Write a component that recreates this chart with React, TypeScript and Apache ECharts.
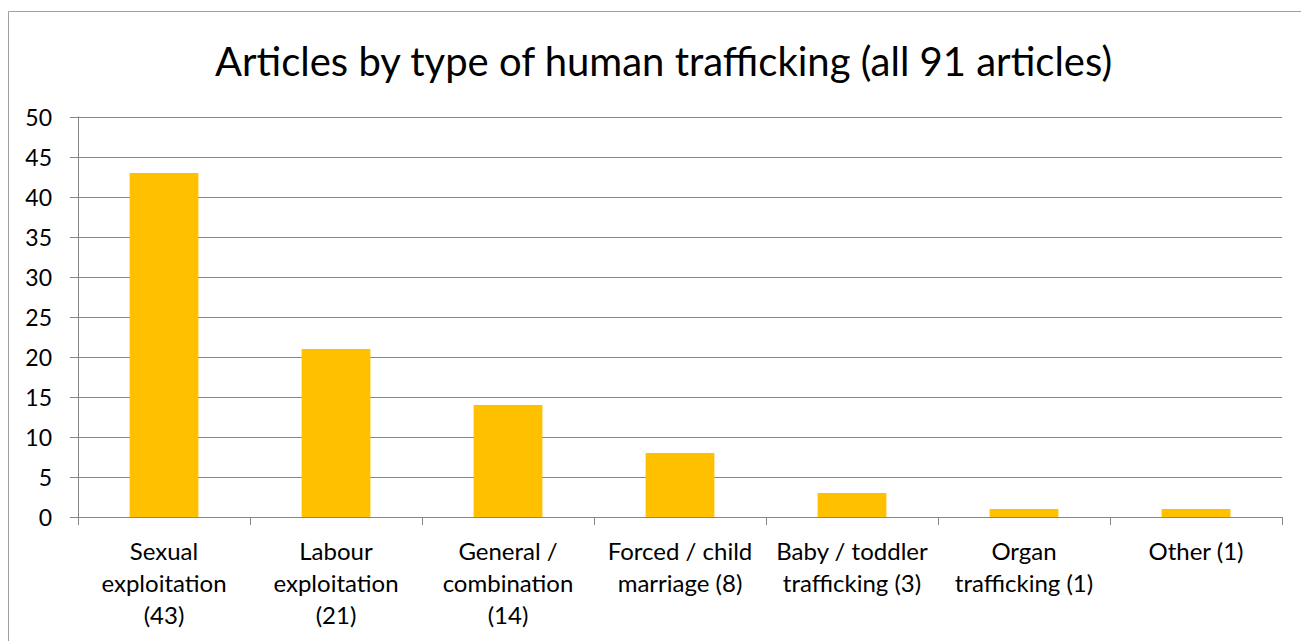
import React, { useEffect, useRef } from "react";
import * as echarts from "echarts";

const categories = [
  "Sexual\nexploitation\n(43)",
  "Labour\nexploitation\n(21)",
  "General /\ncombination\n(14)",
  "Forced / child\nmarriage (8)",
  "Baby / toddler\ntrafficking (3)",
  "Organ\ntrafficking (1)",
  "Other (1)",
];
const values = [43, 21, 14, 8, 3, 1, 1];
const titleText = "Articles by type of human trafficking (all 91 articles)";

export default function App() {
  const ref = useRef<HTMLDivElement>(null);
  useEffect(() => {
    const chart = echarts.init(ref.current!, null, { renderer: "svg" });
    const font = "Lato, 'Open Sans', sans-serif";
    chart.setOption({
      animation: false,
      backgroundColor: "#ffffff",
      title: {
        text: titleText,
        left: 210,
        top: 36,
        textStyle: { fontFamily: font, fontSize: 40, fontWeight: "normal", color: "#000000" },
      },
      graphic: [
        {
          type: "rect",
          shape: { x: 8.5, y: 11.5, width: 1320, height: 660 },
          style: { fill: "none", stroke: "#a0a0a0", lineWidth: 1 },
          silent: true,
        },
      ],
      grid: { left: 78, right: 19, top: 117, bottom: 124, containLabel: false },
      xAxis: {
        type: "category",
        data: categories,
        axisLine: { show: true, lineStyle: { color: "#868686", width: 1 } },
        axisTick: { show: true, alignWithLabel: false, length: 8, lineStyle: { color: "#868686" } },
        axisLabel: {
          interval: 0,
          margin: 17,
          fontFamily: font,
          fontSize: 24,
          lineHeight: 32,
          color: "#000000",
        },
      },
      yAxis: {
        type: "value",
        min: 0,
        max: 50,
        interval: 5,
        axisLine: { show: true, lineStyle: { color: "#868686", width: 1 } },
        axisTick: { show: true, length: 8, lineStyle: { color: "#868686" } },
        axisLabel: { margin: 26, fontFamily: font, fontSize: 23, color: "#000000" },
        splitLine: { show: true, lineStyle: { color: "#868686", width: 1 } },
      },
      series: [
        {
          type: "bar",
          data: values,
          barWidth: "40%",
          itemStyle: { color: "#FFC000" },
        },
      ],
    });
    return () => chart.dispose();
  }, []);
  return (
    <div
      ref={ref}
      style={{ position: "fixed", left: 0, top: 0, width: 1301, height: 641 }}
    />
  );
}
